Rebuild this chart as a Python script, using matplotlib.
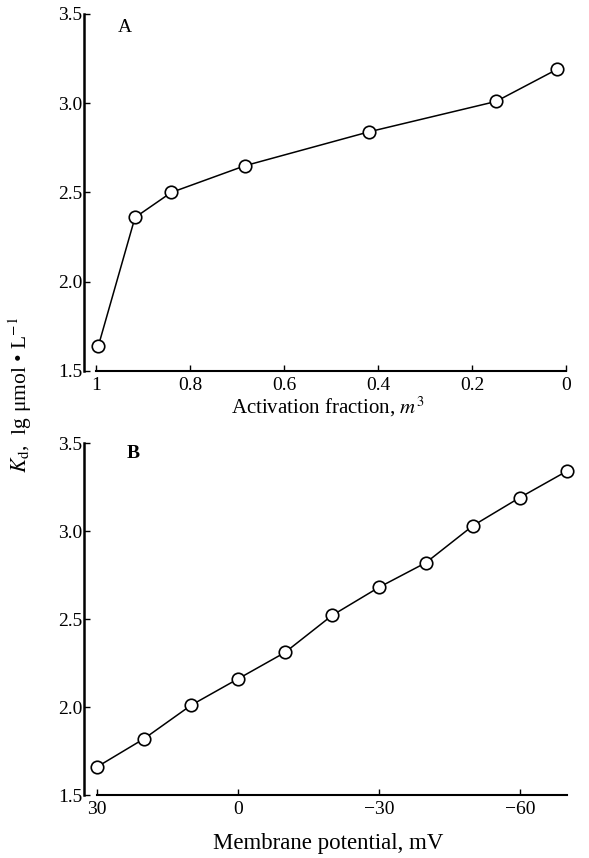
import matplotlib
matplotlib.use("Agg")
import matplotlib.pyplot as plt

plt.rcParams["font.family"] = ["Liberation Serif", "DejaVu Serif"]
plt.rcParams["mathtext.fontset"] = "stix"
plt.rcParams["axes.unicode_minus"] = True

# A: activation fraction m^3 vs lg Kd
frac_a = [0.995, 0.917, 0.84, 0.683, 0.419, 0.149, 0.019]
kd_a = [1.64, 2.36, 2.50, 2.65, 2.84, 3.01, 3.19]
xticks_a = [1, 0.8, 0.6, 0.4, 0.2, 0]
xlabels_a = ["1", "0.8", "0.6", "0.4", "0.2", "0"]

# B: membrane potential vs lg Kd
mv_b = [30, 20, 10, 0, -10, -20, -30, -40, -50, -60, -70]
kd_b = [1.66, 1.82, 2.01, 2.16, 2.31, 2.52, 2.68, 2.82, 3.03, 3.19, 3.34]
xticks_b = [30, 0, -30, -60]
xlabels_b = ["30", "0", "\u221230", "\u221260"]

yticks = [1.5, 2.0, 2.5, 3.0, 3.5]
ylabels = ["1.5", "2.0", "2.5", "3.0", "3.5"]

fig = plt.figure(figsize=(5.89, 8.58), dpi=100)
W, H = 589, 858
axA = fig.add_axes([84 / W, (H - 371) / H, 488 / W, 357 / H])
axB = fig.add_axes([84 / W, (H - 795) / H, 488 / W, 352 / H])


def style(ax, xlim, xbounds, xt, xl):
    ax.set_ylim(1.5, 3.5)
    ax.set_xlim(*xlim)
    for s in ["top", "right"]:
        ax.spines[s].set_visible(False)
    ax.spines["left"].set_linewidth(1.8)
    ax.spines["bottom"].set_linewidth(1.5)
    ax.spines["bottom"].set_bounds(*xbounds)
    ax.set_xticks(xt)
    ax.set_xticklabels(xl)
    ax.set_yticks(yticks)
    ax.set_yticklabels(ylabels)
    ax.tick_params(direction="in", length=4, width=1, labelsize=14, pad=1)
    ax.tick_params(axis="x", pad=4)
    ax.patch.set_alpha(0)


axA.plot(frac_a, kd_a, "-o", color="black", lw=1.1, ms=9, mfc="white", mec="black", mew=1.2, clip_on=False)
style(axA, (1.0255, -0.0128), (0, 1), xticks_a, xlabels_a)
axA.set_xlabel("Activation fraction, $m^3$", fontsize=15, labelpad=1)
axA.text(0.084, 0.961, "A", transform=axA.transAxes, fontsize=14, ha="center", va="center")

axB.plot(mv_b, kd_b, "-o", color="black", lw=1.1, ms=9, mfc="white", mec="black", mew=1.2, clip_on=False)
style(axB, (32.8, -71.1), (-70, 30), xticks_b, xlabels_b)
axB.set_xlabel("Membrane potential, mV", fontsize=16.5, labelpad=11)
axB.text(0.1, 0.969, "B", transform=axB.transAxes, fontsize=14, fontweight="bold", ha="center", va="center")

fig.text(20 / W, (H - 395) / H, "$K_\\mathrm{d}$,  lg \u03bcmol \u2022 L$^{-1}$", rotation=90,
         ha="center", va="center", fontsize=15.5)

fig.savefig("out.png", dpi=100)
